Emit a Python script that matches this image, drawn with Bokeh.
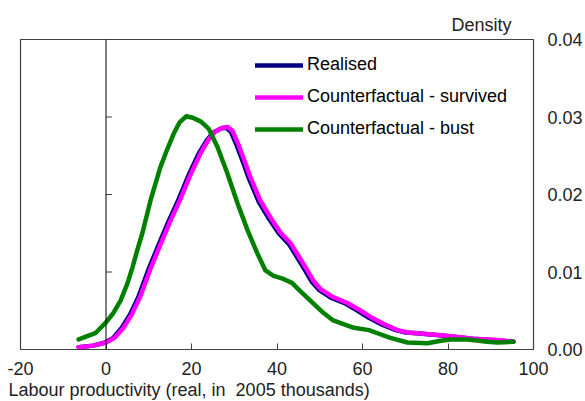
from bokeh.plotting import figure
from bokeh.models import (Span, Legend, LegendItem, FixedTicker, NumeralTickFormatter,
                          Title, Range1d)
from bokeh.embed import file_html
from bokeh.resources import INLINE

# ---- data ----
realised_x = [-6.4, -3.0, -0.2, 1.7, 3.7, 5.6, 7.6, 10.0, 12.3, 14.6, 17.0, 19.4, 21.7, 23.6,
              25.1, 26.8, 28.1, 29.2, 30.6, 32.1, 33.4, 35.7, 38.1, 40.4, 42.8, 44.6, 46.6,
              48.2, 49.8, 52.6, 56.1, 58.6, 61.5, 64.6, 67.8, 70.1, 72.6, 78.6, 85.6, 91.6, 95.3]
realised_y = [0.0003, 0.0005, 0.0009, 0.0015, 0.0028, 0.0045, 0.0068, 0.0104, 0.0135, 0.0165,
              0.0194, 0.0226, 0.0253, 0.0270, 0.0280, 0.0285, 0.0286, 0.0281, 0.0263, 0.0241,
              0.0221, 0.0191, 0.0169, 0.0150, 0.0136, 0.0120, 0.0102, 0.0087, 0.0077, 0.0067,
              0.0059, 0.0051, 0.0041, 0.0032, 0.0025, 0.0022, 0.0021, 0.0018, 0.0014, 0.0012,
              0.0010]

survived_x = [-6.4, -3.0, 0.0, 2.0, 4.1, 6.0, 8.0, 10.4, 12.7, 15.0, 17.4, 19.8, 22.1, 24.0,
              25.5, 27.2, 28.5, 29.6, 31.0, 32.5, 33.8, 36.1, 38.5, 40.8, 43.2, 45.0, 47.0,
              48.6, 50.2, 53.0, 56.5, 59.0, 61.9, 65.0, 68.2, 70.5, 73.0, 79.0, 86.0, 92.0, 95.3]
survived_y = [0.0003, 0.0005, 0.0009, 0.0015, 0.0028, 0.0045, 0.0068, 0.0104, 0.0135, 0.0165,
              0.0194, 0.0226, 0.0253, 0.0271, 0.0281, 0.0286, 0.0287, 0.0282, 0.0264, 0.0242,
              0.0222, 0.0192, 0.0170, 0.0151, 0.0137, 0.0121, 0.0103, 0.0088, 0.0078, 0.0068,
              0.0060, 0.0052, 0.0042, 0.0033, 0.0025, 0.0022, 0.0021, 0.0018, 0.0014, 0.0012,
              0.0010]

bust_x = [-6.4, -2.5, 0.0, 1.7, 3.4, 5.0, 6.2, 7.3, 8.5, 10.4, 12.7, 14.3, 15.8, 17.2, 18.8,
          20.3, 22.2, 24.0, 26.1, 28.4, 30.8, 33.1, 35.4, 37.3, 39.2, 41.5, 43.5, 45.5, 47.8,
          50.9, 53.0, 54.9, 58.0, 61.5, 64.0, 66.5, 70.5, 75.2, 78.0, 80.5, 84.6, 89.2, 91.6, 95.3]
bust_y = [0.0013, 0.0021, 0.0035, 0.0047, 0.0063, 0.0085, 0.0106, 0.0128, 0.0150, 0.0192,
          0.0235, 0.0258, 0.0278, 0.0293, 0.0301, 0.0299, 0.0294, 0.0285, 0.0261, 0.0227,
          0.0188, 0.0154, 0.0124, 0.0102, 0.0095, 0.0091, 0.0086, 0.0075, 0.0063, 0.0047,
          0.0038, 0.0034, 0.0028, 0.0025, 0.0020, 0.0015, 0.0009, 0.0008, 0.0011, 0.0013,
          0.0013, 0.0010, 0.0009, 0.0010]

x_ticks = [-20, 0, 20, 40, 60, 80, 100]
y_ticks = [0.0, 0.01, 0.02, 0.03, 0.04]
inner_y_ticks = [0.01, 0.02, 0.03]

series_names = ["Realised", "Counterfactual - survived", "Counterfactual - bust"]
series_colors = ["#000080", "#ff00ff", "#008000"]

FONT = "Liberation Sans"
FS = "18px"

p = figure(width=585, height=401, output_backend="svg", toolbar_location=None,
           x_range=Range1d(-20, 100), y_range=Range1d(0, 0.04),
           x_axis_location="below", y_axis_location="right",
           min_border_left=20, min_border_right=52, min_border_top=39, min_border_bottom=52)
p.background_fill_color = "white"
p.border_fill_color = "white"
p.outline_line_color = "#404040"
p.outline_line_width = 1.2
p.grid.visible = False

# x axis
xa = p.xaxis[0]
xa.ticker = FixedTicker(ticks=x_ticks)
xa.major_label_overrides = {t: str(t) for t in x_ticks}
xa.major_tick_in = 6
xa.major_tick_out = 0
xa.minor_tick_line_color = None
xa.axis_line_color = None
xa.major_tick_line_color = "#404040"
xa.major_label_text_font = FONT
xa.major_label_text_font_size = FS
xa.major_label_text_color = "#222222"
xa.major_label_standoff = 12

# y axis on the right
ya = p.yaxis[0]
ya.ticker = FixedTicker(ticks=y_ticks)
ya.formatter = NumeralTickFormatter(format="0.00")
ya.major_tick_line_color = None
ya.minor_tick_line_color = None
ya.axis_line_color = None
ya.major_label_text_font = FONT
ya.major_label_text_font_size = FS
ya.major_label_text_color = "#222222"
ya.major_label_standoff = 8

# vertical zero line with inner ticks
p.add_layout(Span(location=0, dimension="height", line_color="black", line_width=1))
p.segment(x0=[0] * len(inner_y_ticks), x1=[1.4] * len(inner_y_ticks),
          y0=inner_y_ticks, y1=inner_y_ticks, line_color="#404040", line_width=1)

# lines
r1 = p.line(realised_x, realised_y, line_color=series_colors[0], line_width=4.5,
            line_join="round", line_cap="round")
r2 = p.line(survived_x, survived_y, line_color=series_colors[1], line_width=4.5,
            line_join="round", line_cap="round")
r3 = p.line(bust_x, bust_y, line_color=series_colors[2], line_width=4.5,
            line_join="round", line_cap="round")

legend = Legend(items=[LegendItem(label=series_names[0], renderers=[r1]),
                       LegendItem(label=series_names[1], renderers=[r2]),
                       LegendItem(label=series_names[2], renderers=[r3])],
                location=(235, 210), orientation="vertical",
                border_line_color=None, background_fill_alpha=0,
                glyph_width=48, glyph_height=20, label_height=20, spacing=11,
                padding=0, margin=0, label_standoff=4,
                label_text_font=FONT, label_text_font_size=FS, label_text_color="black")
p.add_layout(legend)

# titles
t_top = Title(text="Density", align="right", offset=22, text_font=FONT,
              text_font_size=FS, text_font_style="normal", text_color="#222222")
p.add_layout(t_top, "above")
t_bot = Title(text="Labour productivity (real, in \u00a02005 thousands)", align="left", offset=-12,
              standoff=0, text_font=FONT, text_font_size=FS, text_font_style="normal",
              text_color="#222222")
p.add_layout(t_bot, "below")

open("out.html", "w").write(file_html(p, INLINE))
